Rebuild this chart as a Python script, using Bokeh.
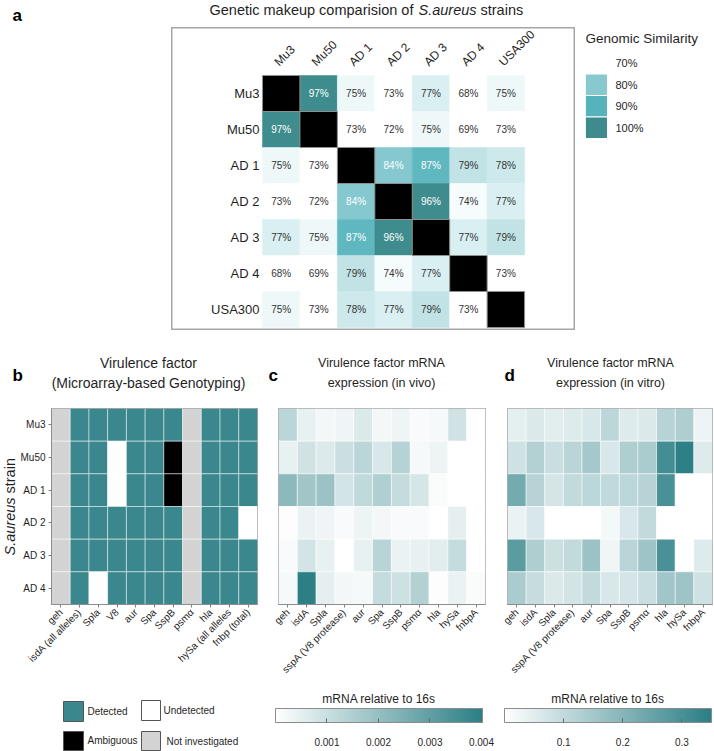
import math
import numpy as np
from bokeh.plotting import figure
from bokeh.layouts import row, column
from bokeh.models import (FactorRange, Range1d, LinearColorMapper, CategoricalColorMapper,
                          ColorBar, FixedTicker, PrintfTickFormatter, ColumnDataSource, Spacer)
from bokeh.transform import transform, dodge
from bokeh.core.properties import value
from bokeh.embed import file_html
from bokeh.resources import INLINE

FONT = "Liberation Sans"
INK = "#1f1f1f"

# ---------------- data ----------------
# (a) pairwise genomic similarity, percent (None on the diagonal)
strains = ["Mu3", "Mu50", "AD 1", "AD 2", "AD 3", "AD 4", "USA300"]
similarity = [
    [None, 97, 75, 73, 77, 68, 75],
    [97, None, 73, 72, 75, 69, 73],
    [75, 73, None, 84, 87, 79, 78],
    [73, 72, 84, None, 96, 74, 77],
    [77, 75, 87, 96, None, 77, 79],
    [68, 69, 79, 74, 77, None, 73],
    [75, 73, 78, 77, 79, 73, None],
]
similarity_levels = ["70%", "80%", "90%", "100%"]

# (b) microarray genotyping
geno_strains = ["Mu3", "Mu50", "AD 1", "AD 2", "AD 3", "AD 4"]
geno_genes = ["geh", "isdA (all alleles)", "Spla", "V8", "aur", "Spa", "SspB", "psmα",
              "hla", "hySa (all alleles", "fnbp (total)"]
geno_states = ["Detected", "Undetected", "Ambiguous", "Not investigated"]
geno_codes = {"D": "Detected", "U": "Undetected", "A": "Ambiguous", "N": "Not investigated"}
geno_calls = [
    "NDDDDDDNDDD",
    "NDDUDDANDDD",
    "NDDUDDANDDD",
    "NDDDDDDNDDU",
    "NDDDDDDNDDD",
    "NDUDDDDNDDD",
]

# (c, d) mRNA relative to 16s
expr_genes = ["geh", "isdA", "Spla", "sspA (V8 protease)", "aur", "Spa", "SspB", "psmα",
              "hla", "hySa", "fnbpA"]
nan = float("nan")
expr_vivo = [
    [0.0013, 0.00045, 0.00025, 0.0003, 0.0007, 0.00025, 0.0003, 0.00015, 0.0002, 0.0009, nan],
    [0.00045, 0.0009, 0.00065, 0.001, 0.0013, 0.00075, 0.0014, 0.0002, 0.00035, nan, nan],
    [0.0022, 0.0018, 0.0019, 0.00085, 0.0012, 0.0015, 0.0011, 0.0008, 0.0001, nan, nan],
    [0.00005, 0.0004, 0.0003, 0.00015, 0.00035, 0.00025, 0.00015, 0.00015, 0.0, 0.0005, nan],
    [0.00015, 0.00085, 0.00045, 0.0, 0.00045, 0.00135, 0.0004, 0.00045, 0.00055, 0.0011, nan],
    [0.0002, 0.004, 0.0005, 0.00025, 0.0002, 0.0011, 0.00095, 0.00145, 0.00005, 0.0004, 0.0001],
]
expr_vitro = [
    [0.045, 0.06, 0.05, 0.055, 0.065, 0.11, 0.055, 0.06, 0.12, 0.135, 0.03],
    [0.08, 0.125, 0.09, 0.115, 0.15, 0.065, 0.135, 0.14, 0.31, 0.345, 0.055],
    [0.23, 0.12, 0.07, 0.10, 0.11, 0.105, 0.11, 0.12, 0.30, nan, nan],
    [0.035, 0.065, nan, nan, nan, 0.02, 0.065, 0.10, nan, nan, nan],
    [0.27, 0.135, 0.085, 0.10, 0.165, 0.025, 0.115, 0.16, 0.30, nan, 0.055],
    [0.14, 0.095, 0.06, 0.075, 0.10, 0.065, 0.07, 0.09, 0.155, 0.16, 0.08],
]
vivo_ticks = [0.001, 0.002, 0.003, 0.004]
vitro_ticks = [0.1, 0.2, 0.3]

# ---------------- colours ----------------
def ramp(stops, lo, hi, n=256):
    pos = [s for s, _ in stops]
    rgb = np.array([[int(c[k:k + 2], 16) for k in (1, 3, 5)] for _, c in stops], float)
    grid = np.linspace(lo, hi, n)
    ch = [np.interp(grid, pos, rgb[:, k]) for k in range(3)]
    return ["#%02x%02x%02x" % (int(round(ch[0][i])), int(round(ch[1][i])), int(round(ch[2][i])))
            for i in range(n)]

sim_palette = ramp([(68, "#ffffff"), (73, "#ffffff"), (75, "#eef8f8"), (77, "#d9eff1"),
                    (79, "#c1e3e6"), (84, "#86c8cf"), (87, "#5fb7bf"), (90, "#57b0b8"),
                    (96, "#3e8c8d"), (100, "#3d8b8c")], 68, 100, 321)
sim_mapper = LinearColorMapper(palette=sim_palette, low=68, high=100, nan_color="black")
sim_legend_colors = ["#ffffff", "#88c8cf", "#57b3bb", "#3d8b8c"]

geno_colors = ["#3a878e", "#ffffff", "#000000", "#d3d3d3"]
geno_mapper = CategoricalColorMapper(factors=geno_states, palette=geno_colors)

expr_palette = ramp([(0, "#ffffff"), (1, "#2b7f85")], 0, 1, 256)
vivo_mapper = LinearColorMapper(palette=expr_palette, low=0, high=0.00402, nan_color="white")
vitro_mapper = LinearColorMapper(palette=expr_palette, low=0, high=0.35, nan_color="white")


# ---------------- helpers ----------------
def canvas(w, h, x_range=None, y_range=None):
    """Drawing surface whose frame covers the whole canvas (y measured downward by default)."""
    p = figure(width=w, height=h,
               x_range=x_range if x_range is not None else Range1d(0, w),
               y_range=y_range if y_range is not None else Range1d(h, 0),
               x_axis_location=None, y_axis_location=None,
               output_backend="svg", toolbar_location=None)
    p.min_border = 0
    p.outline_line_color = None
    p.grid.visible = False
    return p


def put(p, x, y, text, size, style="normal", align="left", color=INK, angle=0.0):
    p.text(x=[x], y=[y], text=[text], angle=angle, text_font=value(FONT), text_font_size=size,
           text_font_style=style, text_align=align, text_baseline="middle", text_color=color)


def borders(p, left, right, top, bottom):
    p.min_border_left, p.min_border_right = left, right
    p.min_border_top, p.min_border_bottom = top, bottom


def style_axis(ax, size):
    ax.major_label_text_font = FONT
    ax.major_label_text_font_size = size
    ax.major_label_text_color = INK


# ---------------- (a) header ----------------
pT = canvas(714, 27)
put(pT, 12, 15, "a", "17px", "bold", color="#000000")
put(pT, 209, 9, "Genetic makeup comparision of", "14.5px")
put(pT, 418, 9, "S.aureus", "14.5px", "italic")
put(pT, 480, 9, "strains", "14.5px")

# ---------------- (a) similarity matrix ----------------
# the boxed panel: one extra factor group holds the strain names beside / above the grid
grid_x = [("grid", s) for s in strains]
grid_y = [("grid", s) for s in strains]
a_xrange = FactorRange(factors=[("names", "rows")] + grid_x, group_padding=0.07,
                       range_padding=1.36, range_padding_units="absolute")
a_yrange = FactorRange(factors=list(reversed(grid_y)) + [("names", "cols")], group_padding=0.25,
                       range_padding=0.083, range_padding_units="absolute")

cx, cy, cv, ct, cc, diag = [], [], [], [], [], []
for i, rs in enumerate(strains):
    for j, cs in enumerate(strains):
        v = similarity[i][j]
        if v is None:
            diag.append(("grid", cs))
            continue
        cx.append(("grid", cs)); cy.append(("grid", rs)); cv.append(v); ct.append(f"{v}%")
        cc.append("#ffffff" if v >= 84 else "#333333")
sim_src = ColumnDataSource(dict(x=cx, y=cy, v=cv, t=ct, c=cc))

pA = canvas(404, 303, a_xrange, a_yrange)
pA.outline_line_color = "#a6a6a6"
pA.outline_line_width = 2
pA.rect(x="x", y="y", width=1, height=1, source=sim_src,
        fill_color=transform("v", sim_mapper), line_color=transform("v", sim_mapper), line_width=0.5)
pA.rect(x=diag, y=diag, width=1, height=1, fill_color="black", line_color="#8f8f8f", line_width=1)
pA.text(x="x", y="y", text="t", source=sim_src, text_color="c", text_font=value(FONT),
        text_font_size="10px", text_align="center", text_baseline="middle")

name_src = ColumnDataSource(dict(first=[grid_x[0]] * len(strains), cell=grid_x, name=strains))
# row names, right-aligned just left of the first column
pA.text(x=dodge("first", -0.58, range=a_xrange), y="cell", text="name", source=name_src,
        text_font=value(FONT), text_font_size="13px", text_color=INK,
        text_align="right", text_baseline="middle")
# column names, slanted, just above the first row
pA.text(x=dodge("cell", -0.13, range=a_xrange), y=dodge("first", 0.82, range=a_yrange),
        text="name", source=name_src, angle=math.pi / 4,
        text_font=value(FONT), text_font_size="12px", text_color=INK,
        text_align="left", text_baseline="middle")

# ---------------- (a) similarity key ----------------
pL = canvas(129, 303)
put(pL, 0, 11, "Genomic Similarity", "13.5px")
key_top = [25 + 21.5 * i for i in range(len(similarity_levels))]
pL.quad(left=0, right=22, top=key_top, bottom=[t + 21.5 for t in key_top],
        fill_color=sim_legend_colors, line_color="white", line_width=1)
for t, lab in zip(key_top, similarity_levels):
    put(pL, 30, t + 10.75, lab, "11px")

top_row = row(Spacer(width=171, height=303), pA, Spacer(width=10, height=303), pL)

# ---------------- (b, c, d) headers ----------------
pH = canvas(714, 70)
put(pH, 12, 45, "b", "17px", "bold", color="#000000")
put(pH, 148, 32, "Virulence factor", "14px", align="center")
put(pH, 148, 52, "(Microarray-based Genotyping)", "14px", align="center")
put(pH, 268, 45, "c", "17px", "bold", color="#000000")
put(pH, 381, 32, "Virulence factor mRNA", "12.5px", align="center")
put(pH, 381, 52, "expression (in vivo)", "12.5px", align="center")
put(pH, 504, 45, "d", "17px", "bold", color="#000000")
put(pH, 610, 32, "Virulence factor mRNA", "12.5px", align="center")
put(pH, 610, 52, "expression (in vitro)", "12.5px", align="center")

# ---------------- (b) y-axis title (frame spans the heat-map rows) ----------------
pY = canvas(17, 284, Range1d(0, 17), Range1d(604, 408))
borders(pY, 0, 0, 8, 80)
put(pY, 9, 555, "S.aureus", "14.5px", "italic", angle=math.pi / 2)
put(pY, 9, 493, "strain", "14.5px", angle=math.pi / 2)


def heat_fig(width, genes, left, right, ylabels):
    p = figure(width=width, height=284, x_range=FactorRange(factors=genes),
               y_range=FactorRange(factors=list(reversed(geno_strains))),
               y_axis_location="left" if ylabels else None,
               output_backend="svg", toolbar_location=None)
    borders(p, left, right, 8, 80)
    p.outline_line_color = "#8c8c8c"
    p.grid.visible = False
    axes = [p.xaxis[0]] + ([p.yaxis[0]] if ylabels else [])
    for ax in axes:
        ax.axis_line_color = "#8c8c8c"
        ax.major_tick_line_color = "#7f7f7f"
        ax.major_tick_out = 3
        ax.major_tick_in = 0
        ax.minor_tick_line_color = None
        ax.major_label_standoff = 3
        style_axis(ax, "10px")
    p.xaxis.major_label_orientation = math.pi / 4
    return p


# ---------------- (b) genotyping ----------------
gx, gy, gs = [], [], []
for i, s in enumerate(geno_strains):
    for j, g in enumerate(geno_genes):
        gx.append(g); gy.append(s); gs.append(geno_codes[geno_calls[i][j]])
pB = heat_fig(250, geno_genes, 34, 10, True)
pB.rect(x="x", y="y", width=1, height=1, fill_color=transform("state", geno_mapper),
        line_color="white", line_alpha=0.45, line_width=1,
        source=ColumnDataSource(dict(x=gx, y=gy, state=gs)))


# ---------------- (c, d) expression ----------------
def expr_source(matrix):
    ex, ey, ev = [], [], []
    for i, s in enumerate(geno_strains):
        for j, g in enumerate(expr_genes):
            ex.append(g); ey.append(s); ev.append(matrix[i][j])
    return ColumnDataSource(dict(x=ex, y=ey, v=np.array(ev, dtype=float)))


pC = heat_fig(229, expr_genes, 11, 11, False)
pC.rect(x="x", y="y", width=1, height=1, source=expr_source(expr_vivo),
        fill_color=transform("v", vivo_mapper), line_color="white", line_alpha=0.5, line_width=1)
pD = heat_fig(218, expr_genes, 11, 2, False)
pD.rect(x="x", y="y", width=1, height=1, source=expr_source(expr_vitro),
        fill_color=transform("v", vitro_mapper), line_color="white", line_alpha=0.5, line_width=1)

main_row = row(pY, pB, pC, pD)

# ---------------- footers: genotype key and colour bars ----------------
fB = canvas(267, 67)
key_pos = [(63, 83, 17, 37), (141, 160, 16, 36), (63, 83, 47, 66), (141, 160, 47, 66)]
key_text = [(87, 27), (163, 26), (87, 56), (166, 57)]
fB.quad(left=[k[0] for k in key_pos], right=[k[1] for k in key_pos],
        top=[k[2] for k in key_pos], bottom=[k[3] for k in key_pos],
        fill_color=geno_colors, line_color="#555555", line_width=1)
for (tx, ty), lab in zip(key_text, geno_states):
    put(fB, tx, ty, lab, "10px")


def bar_footer(width, mapper, ticks, fmt):
    f = canvas(width, 67)
    put(f, 8 + 207 / 2, 14, "mRNA relative to 16s", "12px", align="center")
    cb = ColorBar(color_mapper=mapper, orientation="horizontal", location=(8, 3),
                  width=207, height=14, padding=0,
                  ticker=FixedTicker(ticks=ticks), formatter=PrintfTickFormatter(format=fmt),
                  major_label_text_font=FONT, major_label_text_font_size="10px",
                  major_label_text_color=INK, label_standoff=15,
                  major_tick_in=4, major_tick_out=0, major_tick_line_color="#666666",
                  bar_line_color="#8c8c8c", background_fill_color=None, border_line_color=None)
    f.add_layout(cb)
    return f


fC = bar_footer(229, vivo_mapper, vivo_ticks, "%.3f")
fD = bar_footer(218, vitro_mapper, vitro_ticks, "%.1f")
foot_row = row(fB, fC, fD)

layout = column(pT, top_row, pH, main_row, foot_row)

with open("out.html", "w") as fh:
    fh.write(file_html(layout, INLINE))
